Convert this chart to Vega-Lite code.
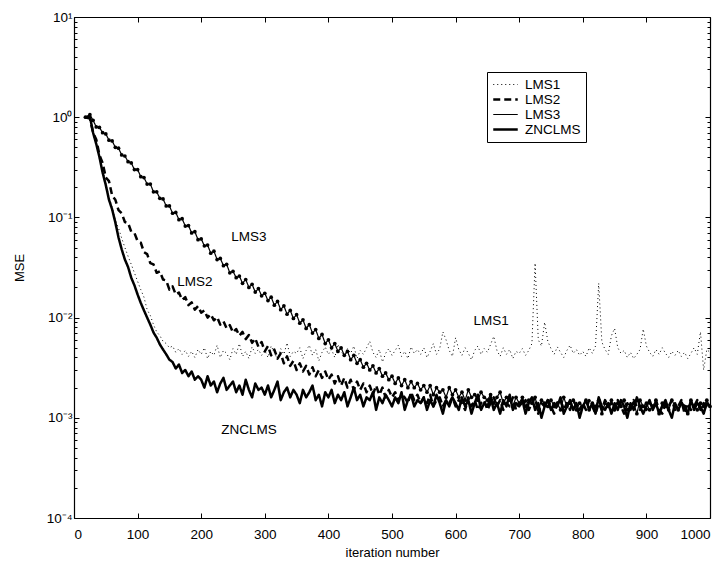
{
"$schema": "https://vega.github.io/schema/vega-lite/v6.json",
"width": 636, "height": 501,
"autosize": {"type": "none"},
"padding": {"left": 74, "top": 17, "right": 16, "bottom": 51},
"config": {"font": "Liberation Sans", "view": {"stroke": null},
  "axis": {"domainColor": "black", "domainWidth": 1.2, "tickColor": "black", "tickWidth": 1, "labelColor": "black", "titleColor": "black", "labelFont": "Liberation Sans", "titleFont": "Liberation Sans", "labelFontSize": 13.5, "titleFontSize": 13, "titleFontWeight": "normal", "grid": false}},
"data": {"values": [
{"s":"LMS1","x":18,"y":1.0},{"s":"LMS1","x":25,"y":1.0},{"s":"LMS1","x":30,"y":0.72},{"s":"LMS1","x":35,"y":0.55},{"s":"LMS1","x":40,"y":0.41},{"s":"LMS1","x":45,"y":0.30},{"s":"LMS1","x":50,"y":0.22},{"s":"LMS1","x":55,"y":0.16},{"s":"LMS1","x":60,"y":0.125},{"s":"LMS1","x":65,"y":0.095},{"s":"LMS1","x":70,"y":0.078},{"s":"LMS1","x":75,"y":0.062},{"s":"LMS1","x":80,"y":0.050},{"s":"LMS1","x":85,"y":0.041},{"s":"LMS1","x":90,"y":0.034},{"s":"LMS1","x":95,"y":0.028},{"s":"LMS1","x":100,"y":0.023},{"s":"LMS1","x":105,"y":0.019},{"s":"LMS1","x":110,"y":0.016},{"s":"LMS1","x":115,"y":0.012},{"s":"LMS1","x":120,"y":0.0105},{"s":"LMS1","x":125,"y":0.0085},{"s":"LMS1","x":130,"y":0.0072},{"s":"LMS1","x":135,"y":0.0066},{"s":"LMS1","x":140,"y":0.0058},{"s":"LMS1","x":145,"y":0.0055},{"s":"LMS1","x":150,"y":0.0050},{"s":"LMS1","x":155,"y":0.0052},{"s":"LMS1","x":160,"y":0.0045},{"s":"LMS1","x":165,"y":0.0049},{"s":"LMS1","x":170,"y":0.0043},{"s":"LMS1","x":175,"y":0.0047},{"s":"LMS1","x":180,"y":0.0041},{"s":"LMS1","x":185,"y":0.0046},{"s":"LMS1","x":190,"y":0.0040},{"s":"LMS1","x":195,"y":0.0048},
{"s":"LMS1","x":200,"y":0.0043},{"s":"LMS1","x":205,"y":0.0050},{"s":"LMS1","x":210,"y":0.0039},{"s":"LMS1","x":215,"y":0.0046},{"s":"LMS1","x":220,"y":0.0042},{"s":"LMS1","x":225,"y":0.0053},{"s":"LMS1","x":230,"y":0.0040},{"s":"LMS1","x":235,"y":0.0047},{"s":"LMS1","x":240,"y":0.0044},{"s":"LMS1","x":245,"y":0.0038},
{"s":"LMS1","x":250,"y":0.0049},{"s":"LMS1","x":255,"y":0.0043},{"s":"LMS1","x":260,"y":0.0055},{"s":"LMS1","x":265,"y":0.0041},{"s":"LMS1","x":270,"y":0.0046},{"s":"LMS1","x":275,"y":0.0039},{"s":"LMS1","x":280,"y":0.0051},{"s":"LMS1","x":285,"y":0.0044},{"s":"LMS1","x":290,"y":0.0048},{"s":"LMS1","x":295,"y":0.0042},
{"s":"LMS1","x":300,"y":0.0047},{"s":"LMS1","x":305,"y":0.0040},{"s":"LMS1","x":310,"y":0.0052},{"s":"LMS1","x":315,"y":0.0045},{"s":"LMS1","x":320,"y":0.0038},{"s":"LMS1","x":325,"y":0.0049},{"s":"LMS1","x":330,"y":0.0043},{"s":"LMS1","x":335,"y":0.0056},{"s":"LMS1","x":340,"y":0.0041},{"s":"LMS1","x":345,"y":0.0046},
{"s":"LMS1","x":350,"y":0.0044},{"s":"LMS1","x":355,"y":0.0050},{"s":"LMS1","x":360,"y":0.0039},{"s":"LMS1","x":365,"y":0.0047},{"s":"LMS1","x":370,"y":0.0053},{"s":"LMS1","x":375,"y":0.0042},{"s":"LMS1","x":380,"y":0.0048},{"s":"LMS1","x":385,"y":0.0037},{"s":"LMS1","x":390,"y":0.0045},{"s":"LMS1","x":395,"y":0.0051},
{"s":"LMS1","x":400,"y":0.0043},{"s":"LMS1","x":405,"y":0.0048},{"s":"LMS1","x":410,"y":0.0040},{"s":"LMS1","x":415,"y":0.0054},{"s":"LMS1","x":420,"y":0.0046},{"s":"LMS1","x":425,"y":0.0041},{"s":"LMS1","x":430,"y":0.0049},{"s":"LMS1","x":435,"y":0.0044},{"s":"LMS1","x":440,"y":0.0052},{"s":"LMS1","x":445,"y":0.0039},
{"s":"LMS1","x":450,"y":0.0047},{"s":"LMS1","x":455,"y":0.0043},{"s":"LMS1","x":460,"y":0.0050},{"s":"LMS1","x":465,"y":0.0058},{"s":"LMS1","x":470,"y":0.0045},{"s":"LMS1","x":475,"y":0.0040},{"s":"LMS1","x":480,"y":0.0048},{"s":"LMS1","x":485,"y":0.0036},{"s":"LMS1","x":490,"y":0.0044},{"s":"LMS1","x":495,"y":0.0049},
{"s":"LMS1","x":500,"y":0.0042},{"s":"LMS1","x":505,"y":0.0047},{"s":"LMS1","x":510,"y":0.0053},{"s":"LMS1","x":515,"y":0.0041},{"s":"LMS1","x":520,"y":0.0046},{"s":"LMS1","x":525,"y":0.0039},{"s":"LMS1","x":530,"y":0.0051},{"s":"LMS1","x":535,"y":0.0044},{"s":"LMS1","x":540,"y":0.0048},{"s":"LMS1","x":545,"y":0.0043},
{"s":"LMS1","x":550,"y":0.0050},{"s":"LMS1","x":555,"y":0.0040},{"s":"LMS1","x":560,"y":0.0046},{"s":"LMS1","x":565,"y":0.0055},{"s":"LMS1","x":570,"y":0.0043},{"s":"LMS1","x":575,"y":0.0049},{"s":"LMS1","x":580,"y":0.0072},{"s":"LMS1","x":585,"y":0.0060},{"s":"LMS1","x":590,"y":0.0047},{"s":"LMS1","x":595,"y":0.0041},
{"s":"LMS1","x":600,"y":0.0063},{"s":"LMS1","x":605,"y":0.0048},{"s":"LMS1","x":610,"y":0.0042},{"s":"LMS1","x":615,"y":0.0050},{"s":"LMS1","x":620,"y":0.0044},{"s":"LMS1","x":625,"y":0.0038},{"s":"LMS1","x":630,"y":0.0047},{"s":"LMS1","x":635,"y":0.0052},{"s":"LMS1","x":640,"y":0.0043},{"s":"LMS1","x":645,"y":0.0049},
{"s":"LMS1","x":650,"y":0.0045},{"s":"LMS1","x":655,"y":0.0054},{"s":"LMS1","x":660,"y":0.0065},{"s":"LMS1","x":665,"y":0.0047},{"s":"LMS1","x":670,"y":0.0041},{"s":"LMS1","x":675,"y":0.0050},{"s":"LMS1","x":680,"y":0.0043},{"s":"LMS1","x":685,"y":0.0048},{"s":"LMS1","x":690,"y":0.0039},{"s":"LMS1","x":695,"y":0.0046},
{"s":"LMS1","x":700,"y":0.0044},{"s":"LMS1","x":705,"y":0.0049},{"s":"LMS1","x":710,"y":0.0042},{"s":"LMS1","x":715,"y":0.0047},{"s":"LMS1","x":720,"y":0.0055},{"s":"LMS1","x":725,"y":0.035},{"s":"LMS1","x":730,"y":0.0060},{"s":"LMS1","x":735,"y":0.0052},{"s":"LMS1","x":740,"y":0.0090},{"s":"LMS1","x":745,"y":0.0058},
{"s":"LMS1","x":750,"y":0.0049},{"s":"LMS1","x":755,"y":0.0043},{"s":"LMS1","x":760,"y":0.0051},{"s":"LMS1","x":765,"y":0.0045},{"s":"LMS1","x":770,"y":0.0040},{"s":"LMS1","x":775,"y":0.0047},{"s":"LMS1","x":780,"y":0.0053},{"s":"LMS1","x":785,"y":0.0044},{"s":"LMS1","x":790,"y":0.0048},{"s":"LMS1","x":795,"y":0.0042},
{"s":"LMS1","x":800,"y":0.0046},{"s":"LMS1","x":805,"y":0.0041},{"s":"LMS1","x":810,"y":0.0050},{"s":"LMS1","x":815,"y":0.0044},{"s":"LMS1","x":820,"y":0.0052},{"s":"LMS1","x":825,"y":0.022},{"s":"LMS1","x":830,"y":0.0057},{"s":"LMS1","x":835,"y":0.0048},{"s":"LMS1","x":840,"y":0.0043},{"s":"LMS1","x":845,"y":0.0066},
{"s":"LMS1","x":850,"y":0.0078},{"s":"LMS1","x":855,"y":0.0050},{"s":"LMS1","x":860,"y":0.0044},{"s":"LMS1","x":865,"y":0.0047},{"s":"LMS1","x":870,"y":0.0040},{"s":"LMS1","x":875,"y":0.0045},{"s":"LMS1","x":880,"y":0.0039},{"s":"LMS1","x":885,"y":0.0043},{"s":"LMS1","x":890,"y":0.0048},{"s":"LMS1","x":895,"y":0.0077},
{"s":"LMS1","x":900,"y":0.0052},{"s":"LMS1","x":905,"y":0.0045},{"s":"LMS1","x":910,"y":0.0041},{"s":"LMS1","x":915,"y":0.0048},{"s":"LMS1","x":920,"y":0.0043},{"s":"LMS1","x":925,"y":0.0050},{"s":"LMS1","x":930,"y":0.0044},{"s":"LMS1","x":935,"y":0.0040},{"s":"LMS1","x":940,"y":0.0046},{"s":"LMS1","x":945,"y":0.0042},
{"s":"LMS1","x":950,"y":0.0047},{"s":"LMS1","x":955,"y":0.0041},{"s":"LMS1","x":960,"y":0.0045},{"s":"LMS1","x":965,"y":0.0039},{"s":"LMS1","x":970,"y":0.0044},{"s":"LMS1","x":975,"y":0.0050},{"s":"LMS1","x":980,"y":0.0043},{"s":"LMS1","x":985,"y":0.0072},{"s":"LMS1","x":990,"y":0.0030},{"s":"LMS1","x":995,"y":0.0048},{"s":"LMS1","x":1000,"y":0.0045},

{"s":"LMS2","x":18,"y":1.0},{"s":"LMS2","x":25,"y":0.97},{"s":"LMS2","x":30,"y":0.70},{"s":"LMS2","x":35,"y":0.60},{"s":"LMS2","x":40,"y":0.42},{"s":"LMS2","x":45,"y":0.35},{"s":"LMS2","x":50,"y":0.25},{"s":"LMS2","x":55,"y":0.23},{"s":"LMS2","x":60,"y":0.165},{"s":"LMS2","x":65,"y":0.15},{"s":"LMS2","x":70,"y":0.118},{"s":"LMS2","x":75,"y":0.11},{"s":"LMS2","x":80,"y":0.090},{"s":"LMS2","x":85,"y":0.088},{"s":"LMS2","x":90,"y":0.072},{"s":"LMS2","x":95,"y":0.070},
{"s":"LMS2","x":100,"y":0.058},{"s":"LMS2","x":105,"y":0.056},{"s":"LMS2","x":110,"y":0.045},{"s":"LMS2","x":115,"y":0.043},{"s":"LMS2","x":120,"y":0.035},{"s":"LMS2","x":125,"y":0.034},{"s":"LMS2","x":130,"y":0.028},{"s":"LMS2","x":135,"y":0.029},{"s":"LMS2","x":140,"y":0.024},{"s":"LMS2","x":145,"y":0.0235},
{"s":"LMS2","x":150,"y":0.019},{"s":"LMS2","x":155,"y":0.0205},{"s":"LMS2","x":160,"y":0.017},{"s":"LMS2","x":165,"y":0.0178},{"s":"LMS2","x":170,"y":0.0150},{"s":"LMS2","x":175,"y":0.0160},{"s":"LMS2","x":180,"y":0.0133},{"s":"LMS2","x":185,"y":0.0142},{"s":"LMS2","x":190,"y":0.0120},{"s":"LMS2","x":195,"y":0.0130},
{"s":"LMS2","x":200,"y":0.0112},{"s":"LMS2","x":205,"y":0.0118},{"s":"LMS2","x":210,"y":0.0100},{"s":"LMS2","x":215,"y":0.0108},{"s":"LMS2","x":220,"y":0.0094},{"s":"LMS2","x":225,"y":0.0101},{"s":"LMS2","x":230,"y":0.0085},{"s":"LMS2","x":235,"y":0.0092},{"s":"LMS2","x":240,"y":0.0078},{"s":"LMS2","x":245,"y":0.0084},
{"s":"LMS2","x":250,"y":0.0071},{"s":"LMS2","x":255,"y":0.0077},{"s":"LMS2","x":260,"y":0.0066},{"s":"LMS2","x":265,"y":0.0072},{"s":"LMS2","x":270,"y":0.0061},{"s":"LMS2","x":275,"y":0.0067},{"s":"LMS2","x":280,"y":0.0056},{"s":"LMS2","x":285,"y":0.0062},{"s":"LMS2","x":290,"y":0.0051},{"s":"LMS2","x":295,"y":0.0057},
{"s":"LMS2","x":300,"y":0.0046},{"s":"LMS2","x":305,"y":0.0052},{"s":"LMS2","x":310,"y":0.0042},{"s":"LMS2","x":315,"y":0.0048},{"s":"LMS2","x":320,"y":0.0039},{"s":"LMS2","x":325,"y":0.0044},{"s":"LMS2","x":330,"y":0.0035},{"s":"LMS2","x":335,"y":0.0041},{"s":"LMS2","x":340,"y":0.0033},{"s":"LMS2","x":345,"y":0.0037},
{"s":"LMS2","x":350,"y":0.0030},{"s":"LMS2","x":355,"y":0.0035},{"s":"LMS2","x":360,"y":0.0029},{"s":"LMS2","x":365,"y":0.0033},{"s":"LMS2","x":370,"y":0.0027},{"s":"LMS2","x":375,"y":0.0032},{"s":"LMS2","x":380,"y":0.0026},{"s":"LMS2","x":385,"y":0.0030},{"s":"LMS2","x":390,"y":0.0025},{"s":"LMS2","x":395,"y":0.0029},
{"s":"LMS2","x":400,"y":0.0024},{"s":"LMS2","x":405,"y":0.0027},{"s":"LMS2","x":410,"y":0.0022},{"s":"LMS2","x":415,"y":0.0026},{"s":"LMS2","x":420,"y":0.0021},{"s":"LMS2","x":425,"y":0.0025},{"s":"LMS2","x":430,"y":0.0020},{"s":"LMS2","x":435,"y":0.0024},{"s":"LMS2","x":440,"y":0.0019},{"s":"LMS2","x":445,"y":0.0023},
{"s":"LMS2","x":450,"y":0.0019},{"s":"LMS2","x":455,"y":0.0022},{"s":"LMS2","x":460,"y":0.0018},{"s":"LMS2","x":465,"y":0.0021},{"s":"LMS2","x":470,"y":0.0017},{"s":"LMS2","x":475,"y":0.0021},{"s":"LMS2","x":480,"y":0.0017},{"s":"LMS2","x":485,"y":0.0020},{"s":"LMS2","x":490,"y":0.0016},{"s":"LMS2","x":495,"y":0.0019},
{"s":"LMS2","x":500,"y":0.0016},{"s":"LMS2","x":505,"y":0.0018},{"s":"LMS2","x":510,"y":0.0015},{"s":"LMS2","x":515,"y":0.0017},{"s":"LMS2","x":520,"y":0.0016},{"s":"LMS2","x":525,"y":0.0014},{"s":"LMS2","x":530,"y":0.0018},{"s":"LMS2","x":535,"y":0.0015},{"s":"LMS2","x":540,"y":0.0017},{"s":"LMS2","x":545,"y":0.0014},
{"s":"LMS2","x":550,"y":0.0016},{"s":"LMS2","x":555,"y":0.0014},{"s":"LMS2","x":560,"y":0.0017},{"s":"LMS2","x":565,"y":0.0013},{"s":"LMS2","x":570,"y":0.0015},{"s":"LMS2","x":575,"y":0.0016},{"s":"LMS2","x":580,"y":0.0013},{"s":"LMS2","x":585,"y":0.0015},{"s":"LMS2","x":590,"y":0.0014},{"s":"LMS2","x":595,"y":0.0016},
{"s":"LMS2","x":600,"y":0.0013},{"s":"LMS2","x":605,"y":0.0015},{"s":"LMS2","x":610,"y":0.0014},{"s":"LMS2","x":615,"y":0.0012},{"s":"LMS2","x":620,"y":0.0016},{"s":"LMS2","x":625,"y":0.0013},{"s":"LMS2","x":630,"y":0.0015},{"s":"LMS2","x":635,"y":0.0012},{"s":"LMS2","x":640,"y":0.0014},{"s":"LMS2","x":645,"y":0.0015},
{"s":"LMS2","x":650,"y":0.0012},{"s":"LMS2","x":655,"y":0.0014},{"s":"LMS2","x":660,"y":0.0016},{"s":"LMS2","x":665,"y":0.0013},{"s":"LMS2","x":670,"y":0.0015},{"s":"LMS2","x":675,"y":0.0012},{"s":"LMS2","x":680,"y":0.0014},{"s":"LMS2","x":685,"y":0.0013},{"s":"LMS2","x":690,"y":0.0016},{"s":"LMS2","x":695,"y":0.0012},
{"s":"LMS2","x":700,"y":0.0014},{"s":"LMS2","x":705,"y":0.0013},{"s":"LMS2","x":710,"y":0.0015},{"s":"LMS2","x":715,"y":0.0012},{"s":"LMS2","x":720,"y":0.0014},{"s":"LMS2","x":725,"y":0.0016},{"s":"LMS2","x":730,"y":0.0011},{"s":"LMS2","x":735,"y":0.0014},{"s":"LMS2","x":740,"y":0.0013},{"s":"LMS2","x":745,"y":0.0015},
{"s":"LMS2","x":750,"y":0.0013},{"s":"LMS2","x":755,"y":0.0011},{"s":"LMS2","x":760,"y":0.0014},{"s":"LMS2","x":765,"y":0.0015},{"s":"LMS2","x":770,"y":0.0012},{"s":"LMS2","x":775,"y":0.0014},{"s":"LMS2","x":780,"y":0.0012},{"s":"LMS2","x":785,"y":0.0015},{"s":"LMS2","x":790,"y":0.0013},{"s":"LMS2","x":795,"y":0.0012},
{"s":"LMS2","x":800,"y":0.0014},{"s":"LMS2","x":805,"y":0.0012},{"s":"LMS2","x":810,"y":0.0015},{"s":"LMS2","x":815,"y":0.0013},{"s":"LMS2","x":820,"y":0.0011},{"s":"LMS2","x":825,"y":0.0014},{"s":"LMS2","x":830,"y":0.0012},{"s":"LMS2","x":835,"y":0.0015},{"s":"LMS2","x":840,"y":0.0013},{"s":"LMS2","x":845,"y":0.0014},
{"s":"LMS2","x":850,"y":0.0012},{"s":"LMS2","x":855,"y":0.0015},{"s":"LMS2","x":860,"y":0.0013},{"s":"LMS2","x":865,"y":0.0011},{"s":"LMS2","x":870,"y":0.0014},{"s":"LMS2","x":875,"y":0.0012},{"s":"LMS2","x":880,"y":0.0015},{"s":"LMS2","x":885,"y":0.0013},{"s":"LMS2","x":890,"y":0.0012},{"s":"LMS2","x":895,"y":0.0014},
{"s":"LMS2","x":900,"y":0.0012},{"s":"LMS2","x":905,"y":0.0014},{"s":"LMS2","x":910,"y":0.0013},{"s":"LMS2","x":915,"y":0.0015},{"s":"LMS2","x":920,"y":0.0012},{"s":"LMS2","x":925,"y":0.0011},{"s":"LMS2","x":930,"y":0.0014},{"s":"LMS2","x":935,"y":0.0013},{"s":"LMS2","x":940,"y":0.0015},{"s":"LMS2","x":945,"y":0.0012},
{"s":"LMS2","x":950,"y":0.0013},{"s":"LMS2","x":955,"y":0.0015},{"s":"LMS2","x":960,"y":0.0011},{"s":"LMS2","x":965,"y":0.0014},{"s":"LMS2","x":970,"y":0.0012},{"s":"LMS2","x":975,"y":0.0013},{"s":"LMS2","x":980,"y":0.0015},{"s":"LMS2","x":985,"y":0.0012},{"s":"LMS2","x":990,"y":0.0014},{"s":"LMS2","x":995,"y":0.0013},{"s":"LMS2","x":1000,"y":0.0012},

{"s":"LMS3","x":18,"y":1.0},{"s":"LMS3","x":25,"y":1.06},{"s":"LMS3","x":30,"y":0.93},{"s":"LMS3","x":35,"y":0.80},{"s":"LMS3","x":40,"y":0.79},{"s":"LMS3","x":45,"y":0.70},{"s":"LMS3","x":50,"y":0.68},{"s":"LMS3","x":55,"y":0.59},{"s":"LMS3","x":60,"y":0.58},{"s":"LMS3","x":65,"y":0.50},{"s":"LMS3","x":70,"y":0.49},{"s":"LMS3","x":75,"y":0.42},{"s":"LMS3","x":80,"y":0.41},{"s":"LMS3","x":85,"y":0.36},{"s":"LMS3","x":90,"y":0.35},{"s":"LMS3","x":95,"y":0.30},
{"s":"LMS3","x":100,"y":0.30},{"s":"LMS3","x":105,"y":0.255},{"s":"LMS3","x":110,"y":0.25},{"s":"LMS3","x":115,"y":0.215},{"s":"LMS3","x":120,"y":0.215},{"s":"LMS3","x":125,"y":0.18},{"s":"LMS3","x":130,"y":0.18},{"s":"LMS3","x":135,"y":0.155},{"s":"LMS3","x":140,"y":0.153},{"s":"LMS3","x":145,"y":0.13},
{"s":"LMS3","x":150,"y":0.130},{"s":"LMS3","x":155,"y":0.110},{"s":"LMS3","x":160,"y":0.112},{"s":"LMS3","x":165,"y":0.095},{"s":"LMS3","x":170,"y":0.097},{"s":"LMS3","x":175,"y":0.082},{"s":"LMS3","x":180,"y":0.083},{"s":"LMS3","x":185,"y":0.070},{"s":"LMS3","x":190,"y":0.072},{"s":"LMS3","x":195,"y":0.060},
{"s":"LMS3","x":200,"y":0.061},{"s":"LMS3","x":205,"y":0.052},{"s":"LMS3","x":210,"y":0.053},{"s":"LMS3","x":215,"y":0.044},{"s":"LMS3","x":220,"y":0.046},{"s":"LMS3","x":225,"y":0.038},{"s":"LMS3","x":230,"y":0.039},{"s":"LMS3","x":235,"y":0.033},{"s":"LMS3","x":240,"y":0.034},{"s":"LMS3","x":245,"y":0.028},
{"s":"LMS3","x":250,"y":0.029},{"s":"LMS3","x":255,"y":0.025},{"s":"LMS3","x":260,"y":0.026},{"s":"LMS3","x":265,"y":0.022},{"s":"LMS3","x":270,"y":0.024},{"s":"LMS3","x":275,"y":0.020},{"s":"LMS3","x":280,"y":0.0215},{"s":"LMS3","x":285,"y":0.018},{"s":"LMS3","x":290,"y":0.0195},{"s":"LMS3","x":295,"y":0.0165},
{"s":"LMS3","x":300,"y":0.0175},{"s":"LMS3","x":305,"y":0.0148},{"s":"LMS3","x":310,"y":0.0160},{"s":"LMS3","x":315,"y":0.0133},{"s":"LMS3","x":320,"y":0.0145},{"s":"LMS3","x":325,"y":0.0120},{"s":"LMS3","x":330,"y":0.0131},{"s":"LMS3","x":335,"y":0.0108},{"s":"LMS3","x":340,"y":0.0118},{"s":"LMS3","x":345,"y":0.0098},
{"s":"LMS3","x":350,"y":0.0107},{"s":"LMS3","x":355,"y":0.0088},{"s":"LMS3","x":360,"y":0.0095},{"s":"LMS3","x":365,"y":0.0078},{"s":"LMS3","x":370,"y":0.0085},{"s":"LMS3","x":375,"y":0.0070},{"s":"LMS3","x":380,"y":0.0076},{"s":"LMS3","x":385,"y":0.0062},{"s":"LMS3","x":390,"y":0.0068},{"s":"LMS3","x":395,"y":0.0055},
{"s":"LMS3","x":400,"y":0.0060},{"s":"LMS3","x":405,"y":0.0050},{"s":"LMS3","x":410,"y":0.0055},{"s":"LMS3","x":415,"y":0.0046},{"s":"LMS3","x":420,"y":0.0050},{"s":"LMS3","x":425,"y":0.0042},{"s":"LMS3","x":430,"y":0.0046},{"s":"LMS3","x":435,"y":0.0038},{"s":"LMS3","x":440,"y":0.0042},{"s":"LMS3","x":445,"y":0.0035},
{"s":"LMS3","x":450,"y":0.0038},{"s":"LMS3","x":455,"y":0.0032},{"s":"LMS3","x":460,"y":0.0035},{"s":"LMS3","x":465,"y":0.0030},{"s":"LMS3","x":470,"y":0.0033},{"s":"LMS3","x":475,"y":0.0028},{"s":"LMS3","x":480,"y":0.0031},{"s":"LMS3","x":485,"y":0.0026},{"s":"LMS3","x":490,"y":0.0028},{"s":"LMS3","x":495,"y":0.0024},
{"s":"LMS3","x":500,"y":0.0026},{"s":"LMS3","x":505,"y":0.0022},{"s":"LMS3","x":510,"y":0.0025},{"s":"LMS3","x":515,"y":0.0021},{"s":"LMS3","x":520,"y":0.0024},{"s":"LMS3","x":525,"y":0.0020},{"s":"LMS3","x":530,"y":0.0023},{"s":"LMS3","x":535,"y":0.0020},{"s":"LMS3","x":540,"y":0.0022},{"s":"LMS3","x":545,"y":0.0019},
{"s":"LMS3","x":550,"y":0.0021},{"s":"LMS3","x":555,"y":0.0018},{"s":"LMS3","x":560,"y":0.0021},{"s":"LMS3","x":565,"y":0.0017},{"s":"LMS3","x":570,"y":0.0020},{"s":"LMS3","x":575,"y":0.0018},{"s":"LMS3","x":580,"y":0.0019},{"s":"LMS3","x":585,"y":0.0016},{"s":"LMS3","x":590,"y":0.0020},{"s":"LMS3","x":595,"y":0.0017},
{"s":"LMS3","x":600,"y":0.0019},{"s":"LMS3","x":605,"y":0.0016},{"s":"LMS3","x":610,"y":0.0018},{"s":"LMS3","x":615,"y":0.0015},{"s":"LMS3","x":620,"y":0.0019},{"s":"LMS3","x":625,"y":0.0016},{"s":"LMS3","x":630,"y":0.0017},{"s":"LMS3","x":635,"y":0.0015},{"s":"LMS3","x":640,"y":0.0018},{"s":"LMS3","x":645,"y":0.0016},
{"s":"LMS3","x":650,"y":0.0015},{"s":"LMS3","x":655,"y":0.0017},{"s":"LMS3","x":660,"y":0.0014},{"s":"LMS3","x":665,"y":0.0016},{"s":"LMS3","x":670,"y":0.0018},{"s":"LMS3","x":675,"y":0.0014},{"s":"LMS3","x":680,"y":0.0016},{"s":"LMS3","x":685,"y":0.0015},{"s":"LMS3","x":690,"y":0.0013},{"s":"LMS3","x":695,"y":0.0016},
{"s":"LMS3","x":700,"y":0.0014},{"s":"LMS3","x":705,"y":0.0016},{"s":"LMS3","x":710,"y":0.0013},{"s":"LMS3","x":715,"y":0.0015},{"s":"LMS3","x":720,"y":0.0014},{"s":"LMS3","x":725,"y":0.0016},{"s":"LMS3","x":730,"y":0.0012},{"s":"LMS3","x":735,"y":0.0015},{"s":"LMS3","x":740,"y":0.0014},{"s":"LMS3","x":745,"y":0.0013},
{"s":"LMS3","x":750,"y":0.0015},{"s":"LMS3","x":755,"y":0.0013},{"s":"LMS3","x":760,"y":0.0014},{"s":"LMS3","x":765,"y":0.0012},{"s":"LMS3","x":770,"y":0.0016},{"s":"LMS3","x":775,"y":0.0013},{"s":"LMS3","x":780,"y":0.0014},{"s":"LMS3","x":785,"y":0.0015},{"s":"LMS3","x":790,"y":0.0012},{"s":"LMS3","x":795,"y":0.0014},
{"s":"LMS3","x":800,"y":0.0013},{"s":"LMS3","x":805,"y":0.0015},{"s":"LMS3","x":810,"y":0.0012},{"s":"LMS3","x":815,"y":0.0014},{"s":"LMS3","x":820,"y":0.0013},{"s":"LMS3","x":825,"y":0.0015},{"s":"LMS3","x":830,"y":0.0011},{"s":"LMS3","x":835,"y":0.0014},{"s":"LMS3","x":840,"y":0.0013},{"s":"LMS3","x":845,"y":0.0015},
{"s":"LMS3","x":850,"y":0.0012},{"s":"LMS3","x":855,"y":0.0014},{"s":"LMS3","x":860,"y":0.0013},{"s":"LMS3","x":865,"y":0.0015},{"s":"LMS3","x":870,"y":0.0012},{"s":"LMS3","x":875,"y":0.0013},{"s":"LMS3","x":880,"y":0.0014},{"s":"LMS3","x":885,"y":0.0011},{"s":"LMS3","x":890,"y":0.0015},{"s":"LMS3","x":895,"y":0.0013},
{"s":"LMS3","x":900,"y":0.0014},{"s":"LMS3","x":905,"y":0.0012},{"s":"LMS3","x":910,"y":0.0013},{"s":"LMS3","x":915,"y":0.0015},{"s":"LMS3","x":920,"y":0.0011},{"s":"LMS3","x":925,"y":0.0014},{"s":"LMS3","x":930,"y":0.0013},{"s":"LMS3","x":935,"y":0.0012},{"s":"LMS3","x":940,"y":0.0015},{"s":"LMS3","x":945,"y":0.0013},
{"s":"LMS3","x":950,"y":0.0012},{"s":"LMS3","x":955,"y":0.0014},{"s":"LMS3","x":960,"y":0.0013},{"s":"LMS3","x":965,"y":0.0011},{"s":"LMS3","x":970,"y":0.0015},{"s":"LMS3","x":975,"y":0.0013},{"s":"LMS3","x":980,"y":0.0012},{"s":"LMS3","x":985,"y":0.0014},{"s":"LMS3","x":990,"y":0.0013},{"s":"LMS3","x":995,"y":0.0015},{"s":"LMS3","x":1000,"y":0.0013},

{"s":"ZNCLMS","x":18,"y":1.0},{"s":"ZNCLMS","x":25,"y":1.02},{"s":"ZNCLMS","x":30,"y":0.70},{"s":"ZNCLMS","x":35,"y":0.54},{"s":"ZNCLMS","x":40,"y":0.40},{"s":"ZNCLMS","x":45,"y":0.28},{"s":"ZNCLMS","x":50,"y":0.21},{"s":"ZNCLMS","x":55,"y":0.15},{"s":"ZNCLMS","x":60,"y":0.12},{"s":"ZNCLMS","x":65,"y":0.089},{"s":"ZNCLMS","x":70,"y":0.063},{"s":"ZNCLMS","x":75,"y":0.048},{"s":"ZNCLMS","x":80,"y":0.038},{"s":"ZNCLMS","x":85,"y":0.032},{"s":"ZNCLMS","x":90,"y":0.025},{"s":"ZNCLMS","x":95,"y":0.021},
{"s":"ZNCLMS","x":100,"y":0.017},{"s":"ZNCLMS","x":105,"y":0.014},{"s":"ZNCLMS","x":110,"y":0.0118},{"s":"ZNCLMS","x":115,"y":0.0100},{"s":"ZNCLMS","x":120,"y":0.0085},{"s":"ZNCLMS","x":125,"y":0.0071},{"s":"ZNCLMS","x":130,"y":0.0063},{"s":"ZNCLMS","x":135,"y":0.0054},{"s":"ZNCLMS","x":140,"y":0.0048},{"s":"ZNCLMS","x":145,"y":0.0043},
{"s":"ZNCLMS","x":150,"y":0.0038},{"s":"ZNCLMS","x":155,"y":0.0036},{"s":"ZNCLMS","x":160,"y":0.0031},{"s":"ZNCLMS","x":165,"y":0.0034},{"s":"ZNCLMS","x":170,"y":0.0028},{"s":"ZNCLMS","x":175,"y":0.0030},{"s":"ZNCLMS","x":180,"y":0.0026},{"s":"ZNCLMS","x":185,"y":0.0029},{"s":"ZNCLMS","x":190,"y":0.0024},{"s":"ZNCLMS","x":195,"y":0.0026},
{"s":"ZNCLMS","x":200,"y":0.0024},{"s":"ZNCLMS","x":205,"y":0.0020},{"s":"ZNCLMS","x":210,"y":0.0026},{"s":"ZNCLMS","x":215,"y":0.0021},{"s":"ZNCLMS","x":220,"y":0.0023},{"s":"ZNCLMS","x":225,"y":0.0018},{"s":"ZNCLMS","x":230,"y":0.0022},{"s":"ZNCLMS","x":235,"y":0.0025},{"s":"ZNCLMS","x":240,"y":0.0019},{"s":"ZNCLMS","x":245,"y":0.0021},
{"s":"ZNCLMS","x":250,"y":0.0023},{"s":"ZNCLMS","x":255,"y":0.0018},{"s":"ZNCLMS","x":260,"y":0.0021},{"s":"ZNCLMS","x":265,"y":0.0017},{"s":"ZNCLMS","x":270,"y":0.0024},{"s":"ZNCLMS","x":275,"y":0.0019},{"s":"ZNCLMS","x":280,"y":0.0016},{"s":"ZNCLMS","x":285,"y":0.0022},{"s":"ZNCLMS","x":290,"y":0.0019},{"s":"ZNCLMS","x":295,"y":0.0020},
{"s":"ZNCLMS","x":300,"y":0.0017},{"s":"ZNCLMS","x":305,"y":0.0021},{"s":"ZNCLMS","x":310,"y":0.0016},{"s":"ZNCLMS","x":315,"y":0.0019},{"s":"ZNCLMS","x":320,"y":0.0023},{"s":"ZNCLMS","x":325,"y":0.0015},{"s":"ZNCLMS","x":330,"y":0.0018},{"s":"ZNCLMS","x":335,"y":0.0020},{"s":"ZNCLMS","x":340,"y":0.0016},{"s":"ZNCLMS","x":345,"y":0.0019},
{"s":"ZNCLMS","x":350,"y":0.0017},{"s":"ZNCLMS","x":355,"y":0.0014},{"s":"ZNCLMS","x":360,"y":0.0019},{"s":"ZNCLMS","x":365,"y":0.0016},{"s":"ZNCLMS","x":370,"y":0.0018},{"s":"ZNCLMS","x":375,"y":0.0021},{"s":"ZNCLMS","x":380,"y":0.0015},{"s":"ZNCLMS","x":385,"y":0.0017},{"s":"ZNCLMS","x":390,"y":0.0013},{"s":"ZNCLMS","x":395,"y":0.0018},
{"s":"ZNCLMS","x":400,"y":0.0016},{"s":"ZNCLMS","x":405,"y":0.0019},{"s":"ZNCLMS","x":410,"y":0.0014},{"s":"ZNCLMS","x":415,"y":0.0017},{"s":"ZNCLMS","x":420,"y":0.0015},{"s":"ZNCLMS","x":425,"y":0.0018},{"s":"ZNCLMS","x":430,"y":0.0013},{"s":"ZNCLMS","x":435,"y":0.0016},{"s":"ZNCLMS","x":440,"y":0.0020},{"s":"ZNCLMS","x":445,"y":0.0015},
{"s":"ZNCLMS","x":450,"y":0.0017},{"s":"ZNCLMS","x":455,"y":0.0013},{"s":"ZNCLMS","x":460,"y":0.0016},{"s":"ZNCLMS","x":465,"y":0.0015},{"s":"ZNCLMS","x":470,"y":0.0018},{"s":"ZNCLMS","x":475,"y":0.0012},{"s":"ZNCLMS","x":480,"y":0.0016},{"s":"ZNCLMS","x":485,"y":0.0014},{"s":"ZNCLMS","x":490,"y":0.0017},{"s":"ZNCLMS","x":495,"y":0.0015},
{"s":"ZNCLMS","x":500,"y":0.0013},{"s":"ZNCLMS","x":505,"y":0.0016},{"s":"ZNCLMS","x":510,"y":0.0014},{"s":"ZNCLMS","x":515,"y":0.0018},{"s":"ZNCLMS","x":520,"y":0.0012},{"s":"ZNCLMS","x":525,"y":0.0015},{"s":"ZNCLMS","x":530,"y":0.0017},{"s":"ZNCLMS","x":535,"y":0.0013},{"s":"ZNCLMS","x":540,"y":0.0015},{"s":"ZNCLMS","x":545,"y":0.0014},
{"s":"ZNCLMS","x":550,"y":0.0016},{"s":"ZNCLMS","x":555,"y":0.0012},{"s":"ZNCLMS","x":560,"y":0.0015},{"s":"ZNCLMS","x":565,"y":0.0013},{"s":"ZNCLMS","x":570,"y":0.0017},{"s":"ZNCLMS","x":575,"y":0.0014},{"s":"ZNCLMS","x":580,"y":0.0011},{"s":"ZNCLMS","x":585,"y":0.0015},{"s":"ZNCLMS","x":590,"y":0.0013},{"s":"ZNCLMS","x":595,"y":0.0016},
{"s":"ZNCLMS","x":600,"y":0.0014},{"s":"ZNCLMS","x":605,"y":0.0012},{"s":"ZNCLMS","x":610,"y":0.0016},{"s":"ZNCLMS","x":615,"y":0.0013},{"s":"ZNCLMS","x":620,"y":0.0015},{"s":"ZNCLMS","x":625,"y":0.0011},{"s":"ZNCLMS","x":630,"y":0.0014},{"s":"ZNCLMS","x":635,"y":0.0017},{"s":"ZNCLMS","x":640,"y":0.0012},{"s":"ZNCLMS","x":645,"y":0.0014},
{"s":"ZNCLMS","x":650,"y":0.0013},{"s":"ZNCLMS","x":655,"y":0.0016},{"s":"ZNCLMS","x":660,"y":0.0012},{"s":"ZNCLMS","x":665,"y":0.0014},{"s":"ZNCLMS","x":670,"y":0.0011},{"s":"ZNCLMS","x":675,"y":0.0015},{"s":"ZNCLMS","x":680,"y":0.0013},{"s":"ZNCLMS","x":685,"y":0.0017},{"s":"ZNCLMS","x":690,"y":0.0012},{"s":"ZNCLMS","x":695,"y":0.0014},
{"s":"ZNCLMS","x":700,"y":0.0013},{"s":"ZNCLMS","x":705,"y":0.0015},{"s":"ZNCLMS","x":710,"y":0.0011},{"s":"ZNCLMS","x":715,"y":0.0014},{"s":"ZNCLMS","x":720,"y":0.0016},{"s":"ZNCLMS","x":725,"y":0.0012},{"s":"ZNCLMS","x":730,"y":0.0014},{"s":"ZNCLMS","x":735,"y":0.0010},{"s":"ZNCLMS","x":740,"y":0.0013},{"s":"ZNCLMS","x":745,"y":0.0015},
{"s":"ZNCLMS","x":750,"y":0.0012},{"s":"ZNCLMS","x":755,"y":0.0014},{"s":"ZNCLMS","x":760,"y":0.0013},{"s":"ZNCLMS","x":765,"y":0.0016},{"s":"ZNCLMS","x":770,"y":0.0011},{"s":"ZNCLMS","x":775,"y":0.0013},{"s":"ZNCLMS","x":780,"y":0.0015},{"s":"ZNCLMS","x":785,"y":0.0012},{"s":"ZNCLMS","x":790,"y":0.0014},{"s":"ZNCLMS","x":795,"y":0.0010},
{"s":"ZNCLMS","x":800,"y":0.0013},{"s":"ZNCLMS","x":805,"y":0.0015},{"s":"ZNCLMS","x":810,"y":0.0012},{"s":"ZNCLMS","x":815,"y":0.0014},{"s":"ZNCLMS","x":820,"y":0.0011},{"s":"ZNCLMS","x":825,"y":0.0016},{"s":"ZNCLMS","x":830,"y":0.0013},{"s":"ZNCLMS","x":835,"y":0.0012},{"s":"ZNCLMS","x":840,"y":0.0014},{"s":"ZNCLMS","x":845,"y":0.0011},
{"s":"ZNCLMS","x":850,"y":0.0014},{"s":"ZNCLMS","x":855,"y":0.0012},{"s":"ZNCLMS","x":860,"y":0.0015},{"s":"ZNCLMS","x":865,"y":0.0013},{"s":"ZNCLMS","x":870,"y":0.0010},{"s":"ZNCLMS","x":875,"y":0.0014},{"s":"ZNCLMS","x":880,"y":0.0012},{"s":"ZNCLMS","x":885,"y":0.0016},{"s":"ZNCLMS","x":890,"y":0.0013},{"s":"ZNCLMS","x":895,"y":0.0011},
{"s":"ZNCLMS","x":900,"y":0.0013},{"s":"ZNCLMS","x":905,"y":0.0015},{"s":"ZNCLMS","x":910,"y":0.0012},{"s":"ZNCLMS","x":915,"y":0.0014},{"s":"ZNCLMS","x":920,"y":0.0011},{"s":"ZNCLMS","x":925,"y":0.0013},{"s":"ZNCLMS","x":930,"y":0.0015},{"s":"ZNCLMS","x":935,"y":0.0012},{"s":"ZNCLMS","x":940,"y":0.0010},{"s":"ZNCLMS","x":945,"y":0.0014},
{"s":"ZNCLMS","x":950,"y":0.0012},{"s":"ZNCLMS","x":955,"y":0.0014},{"s":"ZNCLMS","x":960,"y":0.0013},{"s":"ZNCLMS","x":965,"y":0.0011},{"s":"ZNCLMS","x":970,"y":0.0015},{"s":"ZNCLMS","x":975,"y":0.0012},{"s":"ZNCLMS","x":980,"y":0.0014},{"s":"ZNCLMS","x":985,"y":0.0013},{"s":"ZNCLMS","x":990,"y":0.0011},{"s":"ZNCLMS","x":995,"y":0.0014},{"s":"ZNCLMS","x":1000,"y":0.0013}
]},
"layer": [
 {"mark": {"type": "line", "color": "black", "strokeJoin": "round"},
  "encoding": {
   "x": {"field": "x", "type": "quantitative", "scale": {"domain": [0, 1000], "nice": false, "zero": false},
     "axis": {"orient": "bottom", "values": [0,100,200,300,400,500,600,700,800,900,1000], "format": "d", "tickSize": -5, "labelPadding": 14, "title": "iteration number", "titlePadding": 6}},
   "y": {"field": "y", "type": "quantitative", "scale": {"type": "log", "domain": [0.0001, 10], "nice": false},
     "axis": {"orient": "left", "values": [0.0001,0.0002,0.0003,0.0004,0.0005,0.0006,0.0007,0.0008,0.0009,0.001,0.002,0.003,0.004,0.005,0.006,0.007,0.008,0.009,0.01,0.02,0.03,0.04,0.05,0.06,0.07,0.08,0.09,0.1,0.2,0.3,0.4,0.5,0.6,0.7,0.8,0.9,1,2,3,4,5,6,7,8,9,10],
       "labelExpr": "abs(log(datum.value)/LN10 - round(log(datum.value)/LN10)) < 0.01 ? '10' + ['\u207b\u2074','\u207b\u00b3','\u207b\u00b2','\u207b\u00b9','\u2070','\u00b9'][round(log(datum.value)/LN10)+4] : ''",
       "tickSize": {"condition": {"test": "abs(log(datum.value)/LN10 - round(log(datum.value)/LN10)) < 0.01", "value": -5}, "value": -3},
       "labelPadding": 7, "labelFlush": false, "labelOverlap": false, "title": "MSE", "titlePadding": 20}},
   "strokeDash": {"field": "s", "type": "nominal", "scale": {"domain": ["LMS1","LMS2","LMS3","ZNCLMS"], "range": [[1,3],[7,4],[1,0],[1,0]]},
     "legend": {"title": null, "orient": "none", "legendX": 413, "legendY": 55, "symbolType": "stroke", "symbolSize": 600, "symbolStrokeColor": "black", "labelFontSize": 13.5, "labelFont": "Liberation Sans", "labelColor": "black", "strokeColor": "black", "fillColor": "white", "padding": 5, "rowPadding": 0, "clipHeight": 15, "labelOffset": 6}},
   "strokeWidth": {"field": "s", "type": "nominal", "scale": {"type": "ordinal", "domain": ["LMS1","LMS2","LMS3","ZNCLMS"], "range": [1, 2.5, 1.2, 2.5]},
     "legend": {"title": null, "orient": "none", "legendX": 413, "legendY": 55, "symbolType": "stroke", "symbolSize": 600, "symbolStrokeColor": "black", "labelFontSize": 13.5, "labelFont": "Liberation Sans", "labelColor": "black", "strokeColor": "black", "fillColor": "white", "padding": 5, "rowPadding": 0, "clipHeight": 15, "labelOffset": 6}}
  }},
 {"transform": [{"filter": "datum.s === 'LMS3'"}],
  "mark": {"type": "point", "filled": true, "color": "black", "size": 14, "opacity": 1},
  "encoding": {
   "x": {"field": "x", "type": "quantitative", "axis": null},
   "y": {"field": "y", "type": "quantitative", "axis": null}}},
 {"data": {"values": [{"x": 275, "y": 0.064, "label": "LMS3"}, {"x": 190, "y": 0.0227, "label": "LMS2"}, {"x": 656, "y": 0.0093, "label": "LMS1"}, {"x": 275, "y": 0.00076, "label": "ZNCLMS"}]},
  "mark": {"type": "text", "fontSize": 13.5, "font": "Liberation Sans", "color": "black", "align": "center", "baseline": "middle"},
  "encoding": {
   "x": {"field": "x", "type": "quantitative", "axis": {"orient": "top", "values": [0,100,200,300,400,500,600,700,800,900,1000], "tickSize": -5, "labels": false, "title": null}},
   "y": {"field": "y", "type": "quantitative", "axis": {"orient": "right", "values": [0.0001,0.0002,0.0003,0.0004,0.0005,0.0006,0.0007,0.0008,0.0009,0.001,0.002,0.003,0.004,0.005,0.006,0.007,0.008,0.009,0.01,0.02,0.03,0.04,0.05,0.06,0.07,0.08,0.09,0.1,0.2,0.3,0.4,0.5,0.6,0.7,0.8,0.9,1,2,3,4,5,6,7,8,9,10],
     "tickSize": {"condition": {"test": "abs(log(datum.value)/LN10 - round(log(datum.value)/LN10)) < 0.01", "value": -5}, "value": -3}, "labels": false, "title": null}},
   "text": {"field": "label", "type": "nominal"}}}
],
"resolve": {"axis": {"x": "independent", "y": "independent"}}
}
